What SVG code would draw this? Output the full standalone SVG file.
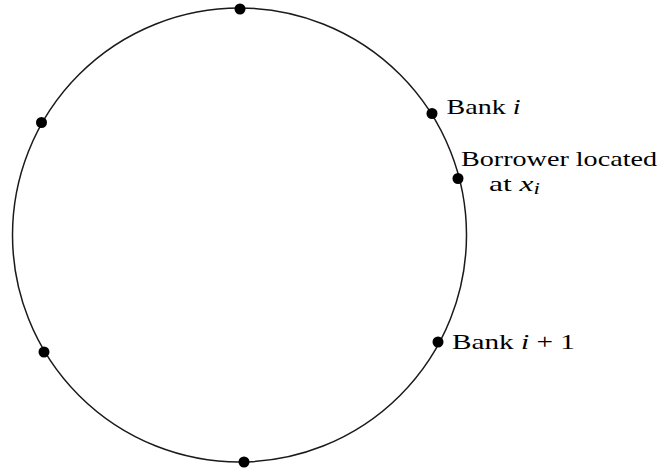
<svg xmlns="http://www.w3.org/2000/svg" width="659" height="472" viewBox="0 0 659 472">
<style>
.ring{fill:none;stroke:#1a1a1a;stroke-width:1.5}
.dot{fill:#000}
.lbl{font-family:"Liberation Serif","Times New Roman",serif;font-size:22px;fill:#000}
.m{font-style:italic}
.sub{font-style:italic;font-size:16px}
</style>
<rect width="659" height="472" fill="#fff"/>
<g id="connectors">
<circle class="ring" cx="239.5" cy="235" r="227"/>
</g>
<g id="node-top"><circle class="dot" cx="240" cy="9" r="5.5"/></g>
<g id="node-upper-left"><circle class="dot" cx="41.5" cy="122.5" r="5.5"/></g>
<g id="node-lower-left"><circle class="dot" cx="44" cy="352" r="5.5"/></g>
<g id="node-bottom"><circle class="dot" cx="244" cy="462" r="5.5"/></g>
<g id="bank-i">
<circle class="dot" cx="432" cy="113.5" r="5.5"/>
<text class="lbl" x="446.5" y="114" textLength="74" lengthAdjust="spacingAndGlyphs">Bank <tspan class="m">i</tspan></text>
</g>
<g id="borrower">
<circle class="dot" cx="458" cy="178.5" r="5.5"/>
<text class="lbl" x="461" y="166" textLength="196" lengthAdjust="spacingAndGlyphs">Borrower located</text>
<text class="lbl" x="489" y="191" textLength="51" lengthAdjust="spacingAndGlyphs">at <tspan class="m">x</tspan><tspan class="sub" dy="3">i</tspan></text>
</g>
<g id="bank-i-plus-1">
<circle class="dot" cx="438" cy="342" r="5.5"/>
<text class="lbl" x="452" y="349" textLength="123" lengthAdjust="spacingAndGlyphs">Bank <tspan class="m">i</tspan> + 1</text>
</g>
</svg>
